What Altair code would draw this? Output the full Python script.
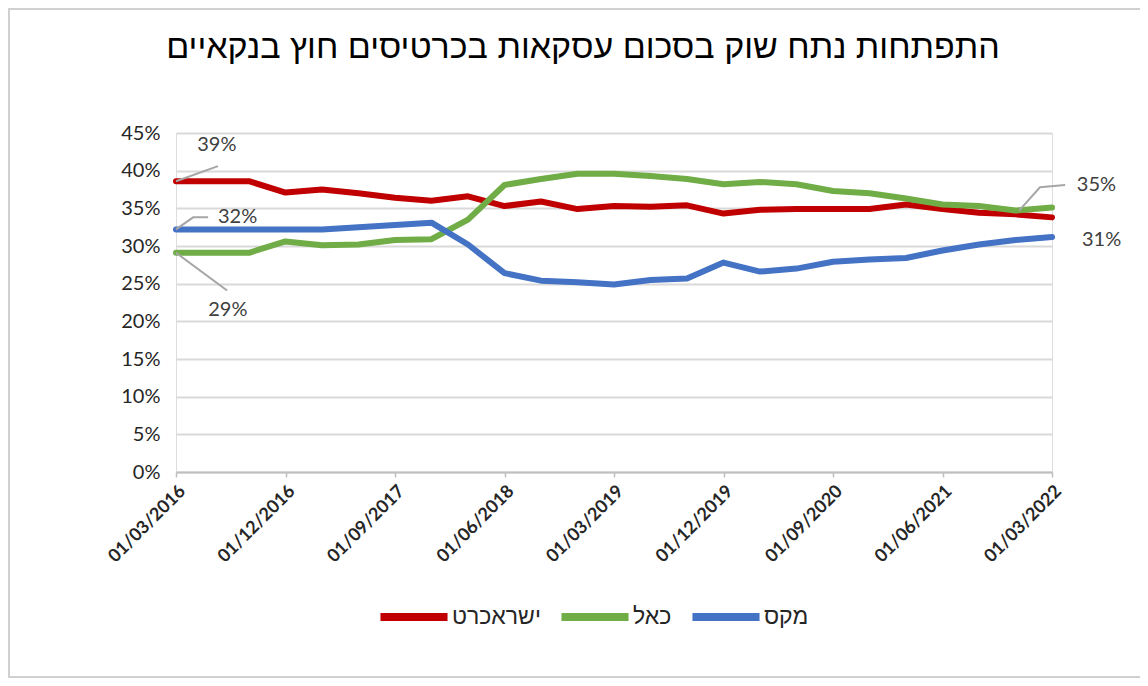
import altair as alt
import pandas as pd

quarters = ["01/03/2016", "01/06/2016", "01/09/2016", "01/12/2016", "01/03/2017",
            "01/06/2017", "01/09/2017", "01/12/2017", "01/03/2018", "01/06/2018",
            "01/09/2018", "01/12/2018", "01/03/2019", "01/06/2019", "01/09/2019",
            "01/12/2019", "01/03/2020", "01/06/2020", "01/09/2020", "01/12/2020",
            "01/03/2021", "01/06/2021", "01/09/2021", "01/12/2021", "01/03/2022"]

series_names = ["ישראכרט", "כאל", "מקס"]
series_colors = ["#C00000", "#70AD47", "#4472C4"]

isracard = [38.6, 38.6, 38.6, 37.1, 37.5, 37.0, 36.4, 36.0, 36.6, 35.3, 35.9, 34.9, 35.3,
            35.2, 35.4, 34.3, 34.8, 34.9, 34.9, 34.9, 35.5, 34.9, 34.4, 34.2, 33.8]
cal = [29.1, 29.1, 29.1, 30.6, 30.1, 30.2, 30.8, 30.9, 33.5, 38.1, 38.9, 39.6, 39.6,
       39.3, 38.9, 38.2, 38.5, 38.2, 37.3, 37.0, 36.3, 35.5, 35.3, 34.7, 35.1]
max_ = [32.2, 32.2, 32.2, 32.2, 32.2, 32.5, 32.8, 33.1, 30.2, 26.4, 25.4, 25.2, 24.9,
        25.5, 25.7, 27.8, 26.6, 27.0, 27.9, 28.2, 28.4, 29.4, 30.2, 30.8, 31.2]

x_ticks = [0, 3, 6, 9, 12, 15, 18, 21, 24]
y_ticks = [0, 5, 10, 15, 20, 25, 30, 35, 40, 45]

# annotation labels: (series, point index, label x, label y, align)
ann = [
    ("ישראכרט", 0, 1.12, 43.4, "center"),
    ("מקס", 0, 1.15, 33.8, "left"),
    ("כאל", 0, 1.42, 21.5, "center"),
    ("כאל", 24, 24.68, 38.1, "left"),
    ("מקס", 24, 24.82, 30.8, "left"),
]
# leader lines (in data units)
leaders = [
    [(0, 38.6), (1.15, 40.6)],
    [(0, 32.2), (0.47, 33.8), (0.88, 33.8)],
    [(0, 29.1), (1.4, 24.1)],
    [(23.1, 34.7), (23.67, 37.8), (24.36, 38.1)],
]

vals = {"ישראכרט": isracard, "כאל": cal, "מקס": max_}
rows = []
for s in series_names:
    for i, v in enumerate(vals[s]):
        rows.append({"series": s, "i": i, "v": v, "order": series_names.index(s)})
df = pd.DataFrame(rows)

ann_df = pd.DataFrame([
    {"lx": lx, "ly": ly, "txt": f"{round(vals[s][idx])}%", "align": al}
    for s, idx, lx, ly, al in ann
])
lead_rows = []
for k, pts in enumerate(leaders):
    for j, (x, y) in enumerate(pts):
        lead_rows.append({"k": k, "j": j, "x": x, "y": y})
lead_df = pd.DataFrame(lead_rows)

label_expr = "[" + ",".join(f"'{q}'" for q in quarters) + "][datum.value]"

xscale = alt.Scale(domain=[0, 24], nice=False, zero=False)
yscale = alt.Scale(domain=[0, 45], nice=False)

x_axis = alt.Axis(values=x_ticks, labelExpr=label_expr, title=None, grid=False,
                  labelAngle=-45, labelAlign="right", labelBaseline="top",
                  labelPadding=5, labelFontSize=18, labelFontWeight="bold",
                  labelFont="Lato", labelColor="#262626", labelOverlap=False,
                  domainColor="#BFBFBF", domainWidth=2,
                  tickColor="#BFBFBF", tickWidth=1.5, tickSize=5)
y_axis = alt.Axis(values=y_ticks, labelExpr="datum.value + '%'", title=None,
                  domain=False, ticks=False, labelPadding=16, labelFontSize=20,
                  labelFont="Lato", labelColor="#262626", labelOverlap=False,
                  gridColor="#D9D9D9", gridWidth=2)

# outer frame of the picture (decoration)
frame = alt.Chart(pd.DataFrame({"f": [0]})).mark_rect(
    fillOpacity=0, stroke="#D0D0D0", strokeWidth=2, clip=False
).encode(x=alt.value(-167), x2=alt.value(966), y=alt.value(-124), y2=alt.value(544))

lines = alt.Chart(df).mark_line(strokeWidth=6, strokeCap="round", strokeJoin="round").encode(
    x=alt.X("i:Q", scale=xscale, axis=x_axis),
    y=alt.Y("v:Q", scale=yscale, axis=y_axis),
    color=alt.Color("series:N", scale=alt.Scale(domain=series_names, range=series_colors),
                    legend=alt.Legend(title=None, orient="none", legendX=200, legendY=446,
                                      direction="horizontal", symbolType="stroke",
                                      symbolSize=4500, symbolStrokeWidth=8,
                                      labelFontSize=23, labelFont="Liberation Sans",
                                      labelColor="#262626", columnPadding=4,
                                      labelOffset=0)),
    order="order:Q",
    detail="series:N",
)

leader_lines = alt.Chart(lead_df).mark_line(color="#A6A6A6", strokeWidth=2).encode(
    x=alt.X("x:Q", scale=xscale, axis=x_axis),
    y=alt.Y("y:Q", scale=yscale, axis=y_axis),
    detail="k:N",
    order="j:Q",
)

labels_center = alt.Chart(ann_df[ann_df["align"] == "center"]).mark_text(
    fontSize=20, font="Lato", color="#404040", align="center", baseline="middle"
).encode(x=alt.X("lx:Q", scale=xscale, axis=x_axis),
         y=alt.Y("ly:Q", scale=yscale, axis=y_axis), text="txt:N")

labels_left = alt.Chart(ann_df[ann_df["align"] == "left"]).mark_text(
    fontSize=20, font="Lato", color="#404040", align="left", baseline="middle"
).encode(x=alt.X("lx:Q", scale=xscale, axis=x_axis),
         y=alt.Y("ly:Q", scale=yscale, axis=y_axis), text="txt:N")

chart = alt.layer(lines, leader_lines, labels_center, labels_left, frame).properties(
    width=876, height=339,
    autosize=alt.AutoSizeParams(type="none"),
    padding={"left": 168, "top": 125, "right": 88, "bottom": 206},
    title=alt.TitleParams("התפתחות נתח שוק בסכום עסקאות בכרטיסים חוץ בנקאיים",
                          fontSize=34, font="Liberation Sans", fontWeight="normal",
                          color="#000000", anchor="middle", dx=-31, offset=-57),
).configure_view(stroke=None).configure(background="white")

chart.save("out.html", embed_options={"renderer": "svg", "actions": False})
